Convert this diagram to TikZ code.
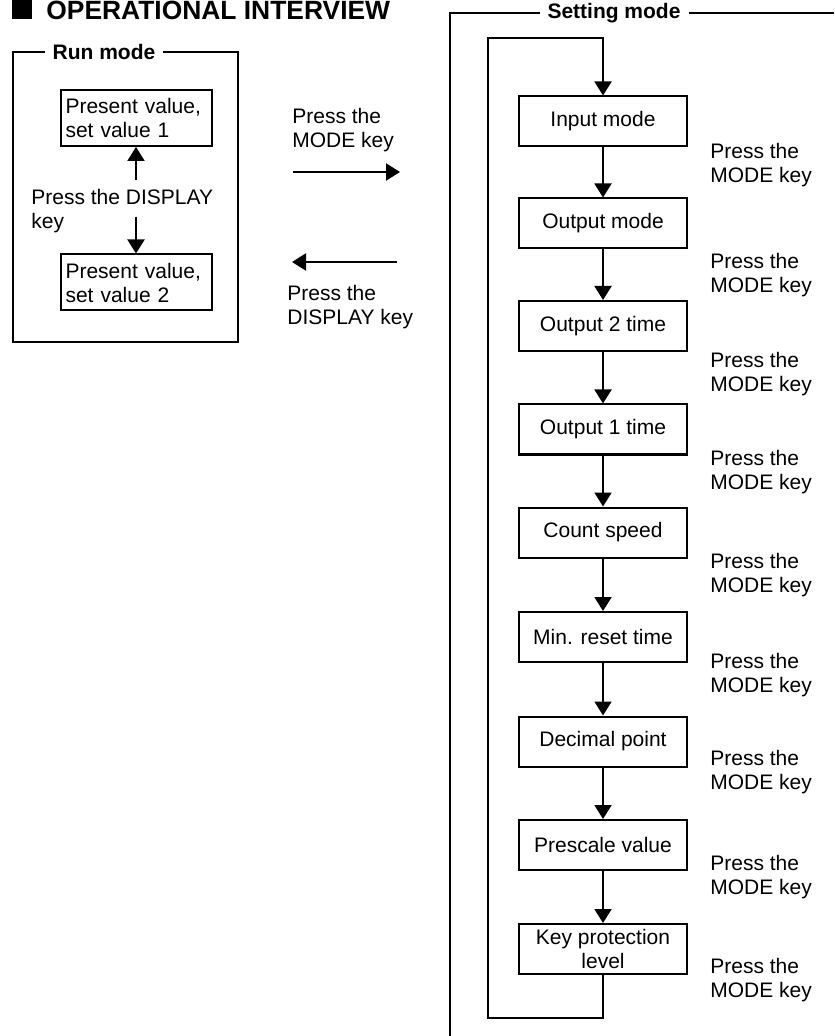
\documentclass[tikz,border=0pt]{standalone}
\usepackage{fontspec}
\setmainfont{Liberation Sans}
\usetikzlibrary{arrows.meta}
\tikzset{
  modebox/.style={draw, rectangle, line width=1pt, minimum width=84pt, minimum height=25pt,
    inner sep=0pt, align=center, font=\fontsize{10.5}{12}\selectfont},
  runbox/.style={draw, rectangle, line width=1pt, text width=71pt, inner xsep=2.25pt,
    inner ysep=0pt, minimum height=28pt, align=left, font=\fontsize{10.5}{12}\selectfont},
  keytext/.style={inner sep=0pt, anchor=west, align=left, font=\fontsize{10.5}{12}\selectfont},
  frametitle/.style={fill=white, inner xsep=4pt, inner ysep=1pt, font=\bfseries\fontsize{10.5}{12}\selectfont},
  flow/.style={line width=1pt, -{Triangle[width=8.5pt,length=7pt]}}
}
\begin{document}
\begin{tikzpicture}[x=0.5pt, y=-0.5pt]
    \useasboundingbox (0,0) rectangle (834,1036);
    % heading
    \fill (12,0) rectangle (32,19);
    \node[anchor=base west, inner sep=0pt, font=\bfseries\fontsize{13.2}{15}\selectfont] (title) at (46,20) {OPERATIONAL INTERVIEW};

    % run mode
    \draw[line width=1pt] (13,52) rectangle (238,342);
    \node[frametitle] (runlabel) at (104,52) {Run mode};
    \node[runbox] (pv1) at (136.5,118) {Present value,\\set value 1};
    \node[runbox] (pv2) at (136.5,282.5) {Present value,\\set value 2};
    \node[keytext] (disptext) at (31,211.5) {Press the DISPLAY\\key};
    \coordinate (dispup) at (136,180);
    \coordinate (dispdown) at (136,217);
    \draw[flow] (dispup) -- (dispup |- pv1.south);
    \draw[flow] (dispdown) -- (dispdown |- pv2.north);

    % switching between the modes
    \node[keytext] (modetext) at (292,130) {Press the\\MODE key};
    \coordinate (modefrom) at (293,172);
    \coordinate (modeto) at (400,172);
    \draw[flow] (modefrom) -- (modeto);
    \coordinate (backfrom) at (397,262);
    \coordinate (backto) at (292,262);
    \draw[flow] (backfrom) -- (backto);
    \node[keytext] (backtext) at (287,307) {Press the\\DISPLAY key};

    % setting mode
    \draw[line width=1pt] (834,13) -- (450,13) -- (450,1036);
    \node[frametitle] (setlabel) at (614,13) {Setting mode};
    \foreach \name/\y/\txt in {input/121.5/{Input mode}, outmode/223.5/{Output mode},
        outtwo/326/{Output 2 time}, outone/429.5/{Output 1 time}, speed/532.5/{Count speed},
        reset/637/{Min. reset time}, decimal/741.5/{Decimal point}, prescale/845/{Prescale value},
        keyprot/949/{Key protection\\level}}
        \node[modebox] (\name) at (603,\y) {\txt};
    \foreach \a/\b in {input/outmode, outmode/outtwo, outtwo/outone, outone/speed,
        speed/reset, reset/decimal, decimal/prescale, prescale/keyprot}
        \draw[flow] (\a) -- (\b);
    \coordinate (loopbl) at (488,1018);
    \coordinate (looptl) at (488,38);
    \draw[flow] (keyprot.south) |- (loopbl) -- (looptl) -| (input.north);
    \foreach \y [count=\i] in {165,275,374,472,575,675,772,877,980}
        \node[keytext] (press\i) at (710,\y) {Press the\\MODE key};
\end{tikzpicture}
\end{document}
